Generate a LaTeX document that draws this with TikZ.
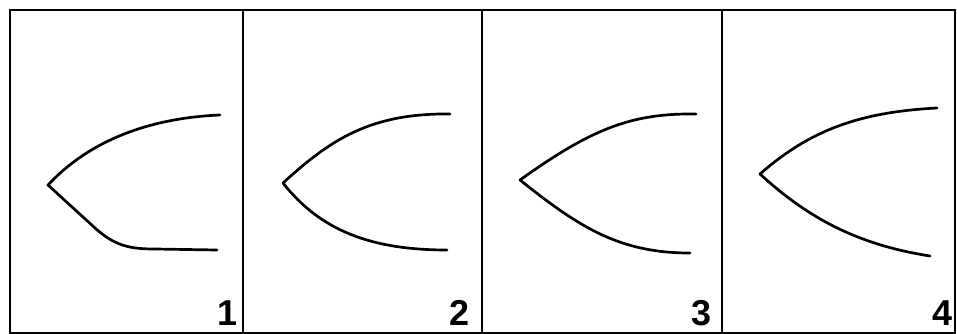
\documentclass[tikz,border=0pt]{standalone}
\usepackage{fontspec}
\setsansfont{Liberation Sans}
\begin{document}
\begin{tikzpicture}[x=1pt, y=-1pt,
    frameline/.style={line width=2.2pt},
    outline/.style={line width=2.7pt, line join=round, line cap=round},
    panelnum/.style={anchor=base east, inner sep=0pt, font=\sffamily\bfseries\fontsize{36}{36}\selectfont}]
    \useasboundingbox (0,0) rectangle (957,334);

    % Frame and dividers
    \draw[frameline] (10,10) rectangle (955,333);
    \draw[frameline] (243,10) -- (243,333);
    \draw[frameline] (482,10) -- (482,333);
    \draw[frameline] (722,10) -- (722,333);

    % Panel 1: straight lower flank, flat tail
    \draw[outline] (220,115) .. controls (150,118) and (90,140) .. (48,185)
        -- (95,228) .. controls (115,246) and (130,249) .. (155,249) -- (217,250);
    \node[panelnum] (num1) at (238,325) {1};

    % Panel 2
    \draw[outline] (450,114) .. controls (370,113) and (330,140) .. (283,183)
        .. controls (320,230) and (370,250) .. (447,250);
    \node[panelnum] (num2) at (470,325) {2};

    % Panel 3
    \draw[outline] (696,114) .. controls (630,113) and (590,130) .. (520,180)
        .. controls (580,228) and (620,253) .. (690,253);
    \node[panelnum] (num3) at (712,325) {3};

    % Panel 4
    \draw[outline] (937,108) .. controls (860,112) and (810,130) .. (760,174)
        .. controls (810,220) and (860,245) .. (930,256);
    \node[panelnum] (num4) at (953,325) {4};
\end{tikzpicture}
\end{document}
